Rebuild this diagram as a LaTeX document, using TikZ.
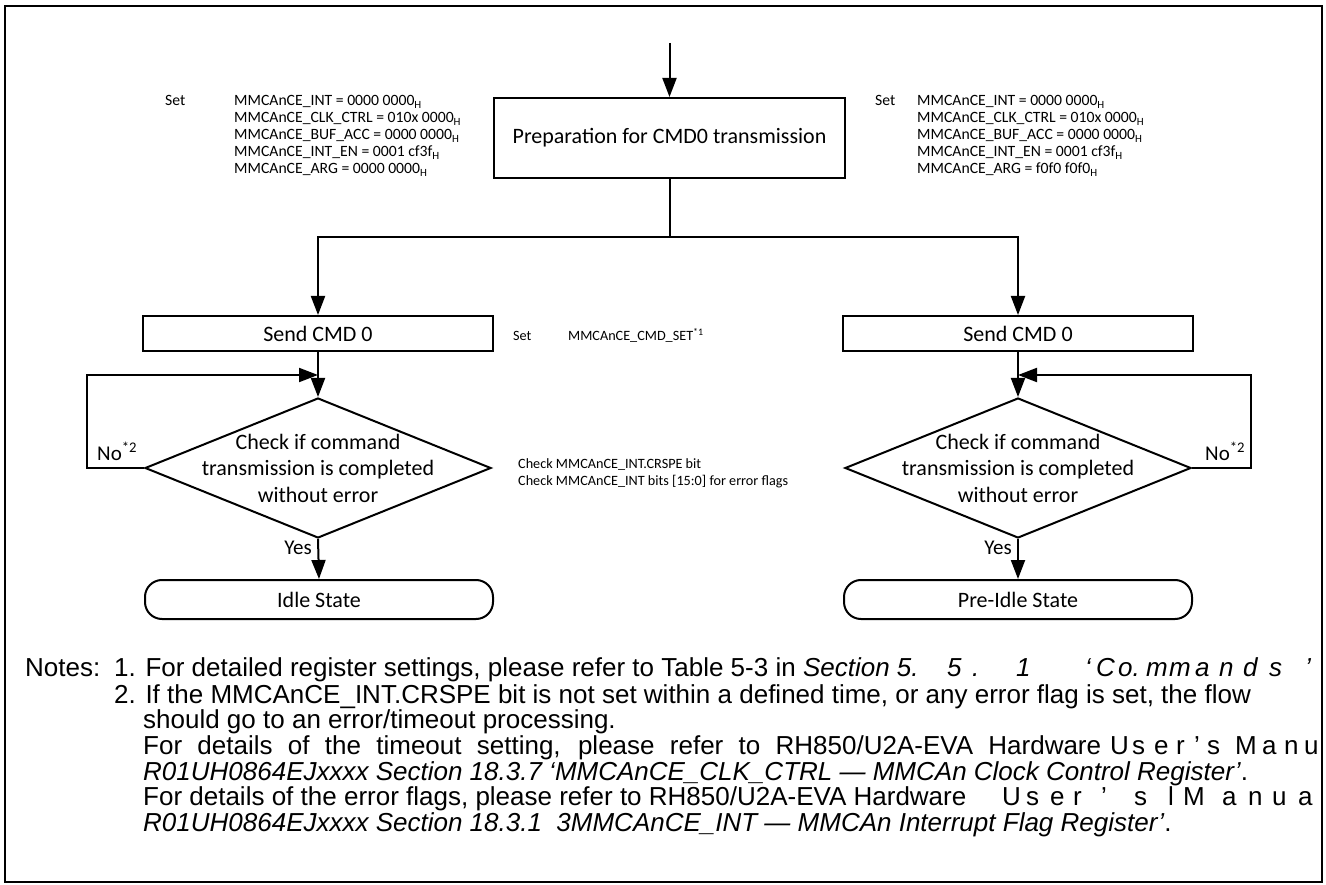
\documentclass[tikz,border=0pt]{standalone}
\usepackage{fontspec}
\setmainfont{Liberation Sans}
\newfontfamily\carl{Carlito}
\usetikzlibrary{arrows.meta,shapes.geometric}
\newcommand\ls[2]{\makebox[#1pt][l]{#2}}
\begin{document}
\begin{tikzpicture}[x=1pt,y=-1pt,
  flow/.style={line width=2pt},
  arr/.style={flow,-{Triangle[length=19pt,width=14pt]}},
  procbox/.style={draw,line width=2pt,inner sep=0pt,font=\carl\fontsize{22}{26}\selectfont},
  decbox/.style={draw,diamond,line width=2pt,inner sep=0pt,minimum width=346pt,minimum height=140pt},
  dtext/.style={align=center,inner sep=0pt,font=\carl\fontsize{22}{26.5}\selectfont},
  termbox/.style={draw,rounded corners=17pt,line width=2pt,inner sep=0pt,minimum width=348pt,minimum height=39pt,font=\carl\fontsize{22}{26}\selectfont},
  lbl/.style={anchor=base west,inner sep=0pt,font=\carl\fontsize{15.7}{17}\selectfont},
  chk/.style={anchor=base west,inner sep=0pt,font=\carl\fontsize{14.2}{17}\selectfont},
  yn/.style={inner sep=0pt,font=\carl\fontsize{21}{24}\selectfont},
  note/.style={anchor=base west,inner sep=0pt,font=\fontsize{26}{27}\selectfont}
]
\useasboundingbox (0,0) rectangle (1326,885);

% main flow nodes
\coordinate (start) at (669.5,43);
\node[procbox,minimum width=351pt,minimum height=80pt] (prep) at (669.5,138) {Preparation for CMD0 transmission};
\coordinate (split) at (669.5,237);
\node[procbox,minimum width=350pt,minimum height=35pt] (sendL) at (318,333.5) {Send CMD 0};
\node[procbox,minimum width=350pt,minimum height=35pt] (sendR) at (1018,333.5) {Send CMD 0};
\node[decbox] (decL) at (318,468) {};
\node[decbox] (decR) at (1018,468) {};
\node[dtext] (tL) at (318,468) {Check if command\\transmission is completed\\without error};
\node[dtext] (tR) at (1018,468) {Check if command\\transmission is completed\\without error};
\node[termbox] (termL) at (319,599.5) {Idle State};
\node[termbox] (termR) at (1018,599.5) {Pre-Idle State};

\coordinate (jL) at (318,375);
\coordinate (jR) at (1018,375);
\coordinate (cL) at (87,468);
\coordinate (cR) at (1251,468);

% connectors
\draw[arr] (start) -- (prep.north);
\draw[flow] (prep.south) -- (split);
\draw[arr] (split) -| (sendL.north);
\draw[arr] (split) -| (sendR.north);
\draw[arr] (sendL.south) -- (decL.north);
\draw[arr] (sendR.south) -- (decR.north);
\draw[arr] (decL.west) -- (cL) |- (jL);
\draw[arr] (decR.east) -- (cR) |- (jR);
\draw[arr] (decL.south) -- (termL.north);
\draw[arr] (decR.south) -- (termR.north);

\node[yn,anchor=east] (yesL) at (312,548) {Yes};
\node[yn,anchor=east] (yesR) at (1012,548) {Yes};
\node[yn,anchor=base west] (noL) at (97,460) {No\textsuperscript{*2}};
\node[yn,anchor=base west] (noR) at (1205,460) {No\textsuperscript{*2}};

% left register settings
\node[lbl] (setL) at (165,106) {Set};
\node[lbl] (aL1) at (234,106) {MMCAnCE\_INT = 0000 0000\textsubscript{H}};
\node[lbl] (aL2) at (234,123) {MMCAnCE\_CLK\_CTRL = 010x 0000\textsubscript{H}};
\node[lbl] (aL3) at (234,140) {MMCAnCE\_BUF\_ACC = 0000 0000\textsubscript{H}};
\node[lbl] (aL4) at (234,157) {MMCAnCE\_INT\_EN = 0001 cf3f\textsubscript{H}};
\node[lbl] (aL5) at (234,174) {MMCAnCE\_ARG = 0000 0000\textsubscript{H}};
% right register settings
\node[lbl] (setR) at (875,106) {Set};
\node[lbl] (aR1) at (917,106) {MMCAnCE\_INT = 0000 0000\textsubscript{H}};
\node[lbl] (aR2) at (917,123) {MMCAnCE\_CLK\_CTRL = 010x 0000\textsubscript{H}};
\node[lbl] (aR3) at (917,140) {MMCAnCE\_BUF\_ACC = 0000 0000\textsubscript{H}};
\node[lbl] (aR4) at (917,157) {MMCAnCE\_INT\_EN = 0001 cf3f\textsubscript{H}};
\node[lbl] (aR5) at (917,174) {MMCAnCE\_ARG = f0f0 f0f0\textsubscript{H}};
% middle annotations
\node[chk] (setM) at (513,341) {Set};
\node[chk] (cmdM) at (568,341) {MMCAnCE\_CMD\_SET\textsuperscript{*1}};
\node[chk] (chk1) at (518,468) {Check MMCAnCE\_INT.CRSPE bit};
\node[chk] (chk2) at (518,485) {Check MMCAnCE\_INT bits [15:0] for error flags};

% notes
\begin{scope}
\clip (5,6) rectangle (1322,882);
\node[note] (n0) at (25,676) {Notes:};
\node[note] (n1) at (114,676) {1. For detailed register settings, please refer to Table 5-3 in \textit{Section 5.}};
\node[note] (n1s) at (947,676) {\itshape\ls{25}{5}\ls{44}{.}\ls{69}{1}\ls{11}{‘}\ls{22}{C}\ls{28}{o.}\ls{23}{m}\ls{26}{m}\ls{24}{a}\ls{24}{n}\ls{26}{d}\ls{36}{s}’};
\node[note] (n2) at (114,703) {2. If the MMCAnCE\_INT.CRSPE bit is not set within a defined time, or any error flag is set, the flow};
\node[note] (n3) at (143,728) {should go to an error/timeout processing.};
\node[note] (n4) at (143,754) {\makebox[958pt][s]{For details of the timeout setting, please refer to RH850/U2A-EVA Hardware}};
\node[note] (n4s) at (1110,754) {\ls{22}{U}\ls{22}{s}\ls{22}{e}\ls{18}{r}\ls{13}{’}\ls{28}{s}\ls{27}{M}\ls{22}{a}\ls{20}{n}u};
\node[note] (n5) at (143,780) {\textit{R01UH0864EJxxxx Section 18.3.7 ‘MMCAnCE\_CLK\_CTRL — MMCAn Clock Control Register’}.};
\node[note] (n6) at (143,805) {For details of the error flags, please refer to RH850/U2A-EVA Hardware};
\node[note] (n6s) at (1002,805) {\ls{24}{U}\ls{24}{s}\ls{23}{e}\ls{28}{r}\ls{33}{’}\ls{34}{s}\ls{15}{l}\ls{39}{M}\ls{26}{a}\ls{24}{n}\ls{26}{u}a};
\node[note] (n7) at (143,831) {\textit{R01UH0864EJxxxx Section 18.3.1\ \ 3MMCAnCE\_INT — MMCAn Interrupt Flag Register’}.};
\end{scope}

% frame
\draw[line width=2.2pt] (5,6) rectangle (1322,882);
\end{tikzpicture}
\end{document}
